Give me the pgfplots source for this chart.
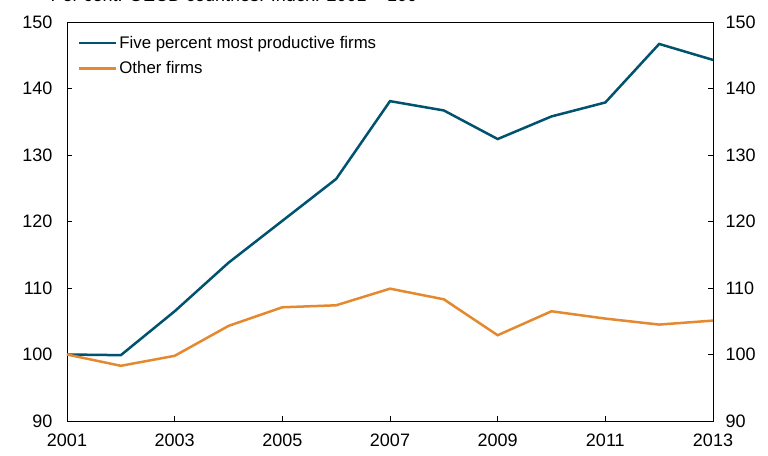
\documentclass[border=0pt]{standalone}
\usepackage{pgfplots}
\pgfplotsset{compat=1.18}
\usepackage{fontspec}
\setmainfont{Liberation Sans}
\definecolor{nbblue}{HTML}{00526E}
\definecolor{nborange}{HTML}{E5892F}
\begin{document}
\begin{tikzpicture}
\path[use as bounding box] (-67bp,-35bp) rectangle (701bp,421bp);
\node[anchor=base west,font=\fontsize{18bp}{20bp}\selectfont] at (-20bp,419.5bp) {Per cent. OECD countries. Index. 2001 = 100};
\begin{axis}[
  at={(0,0)}, anchor=south west,
  scale only axis, width=646bp, height=399bp,
  xmin=2001, xmax=2013, ymin=90, ymax=150,
  xtick={2001,2003,...,2013}, ytick={90,100,...,150},
  xticklabel style={/pgf/number format/1000 sep={}, yshift=-9bp},
  yticklabel style={xshift=-11bp},
  /pgf/number format/assume math mode=true,
  tick label style={font=\fontsize{18bp}{20bp}\selectfont},
  tick align=inside, major tick length=5bp,
  xtick pos=bottom, ytick pos=left,
  axis line style={black, line width=0.8pt},
  tick style={black, line width=0.6pt},
  legend style={draw=none, fill=none, at={(0.012,0.975)}, anchor=north west,
    font=\fontsize{16.8bp}{18bp}\selectfont, row sep=8bp},
  legend cell align=left,
  legend image code/.code={\draw[#1] (0bp,0bp) -- (37bp,0bp);},
]
\addplot[nbblue, line width=2.5bp] coordinates {
(2001,100) (2002,99.9) (2003,106.5) (2004,113.8) (2005,120.1) (2006,126.4)
(2007,138.1) (2008,136.7) (2009,132.4) (2010,135.8) (2011,137.9) (2012,146.7) (2013,144.3)};
\addlegendentry{Five percent most productive firms}
\addplot[nborange, line width=2.5bp] coordinates {
(2001,100) (2002,98.3) (2003,99.8) (2004,104.3) (2005,107.1) (2006,107.4)
(2007,109.9) (2008,108.3) (2009,102.9) (2010,106.5) (2011,105.4) (2012,104.5) (2013,105.1)};
\addlegendentry{Other firms}
\end{axis}
\begin{axis}[
  at={(0,0)}, anchor=south west,
  scale only axis, width=646bp, height=399bp,
  xmin=2001, xmax=2013, ymin=90, ymax=150,
  ytick={90,100,...,150},
  yticklabel style={xshift=9bp},
  /pgf/number format/assume math mode=true,
  tick label style={font=\fontsize{18bp}{20bp}\selectfont},
  axis y line*=right, axis x line=none,
  tick align=inside, major tick length=5bp,
  axis line style={black, line width=0.8pt},
  tick style={black, line width=0.6pt},
]
\end{axis}
\end{tikzpicture}
\end{document}
